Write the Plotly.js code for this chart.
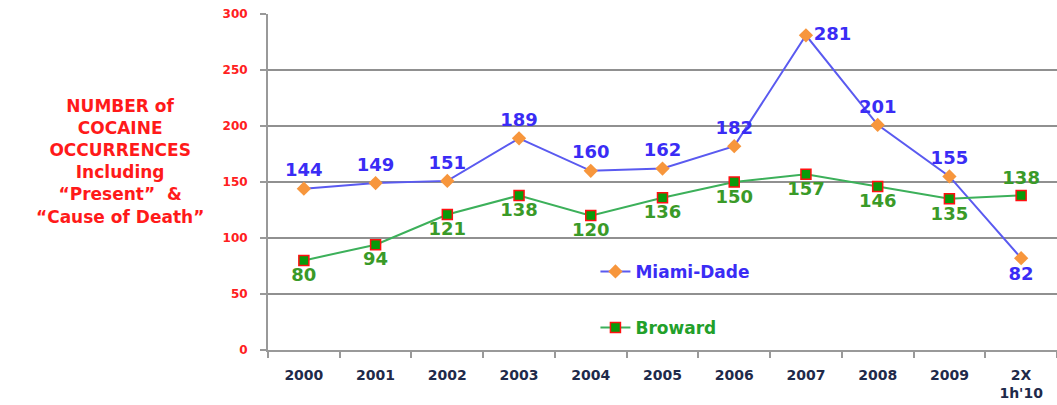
<!DOCTYPE html>
<html>
<head>
<meta charset="utf-8">
<script src="https://cdn.plot.ly/plotly-3.0.1.min.js"></script>
<style>html,body{margin:0;padding:0;background:#fff;}#chart{width:1057px;height:405px;}</style>
</head>
<body>
<div id="chart"></div>
<script>
const categories = ["2000","2001","2002","2003","2004","2005","2006","2007","2008","2009","2X<br>1h'10"];
const miamiDade = [144,149,151,189,160,162,182,281,201,155,82];
const broward = [80,94,121,138,120,136,150,157,146,135,138];
const yTicks = [0,50,100,150,200,250,300];

const miamiPos = miamiDade.map((v,i)=> i===7 ? 'middle right' : (i===10 ? 'bottom center' : 'top center'));
const browardPos = broward.map((v,i)=> i===10 ? 'top center' : 'bottom center');

const traces = [
  {
    x: categories, y: miamiDade, type: 'scatter', mode: 'lines+markers+text',
    name: '<span style="color:#3a2cf5">Miami-Dade</span>',
    legendgroup: 'a',
    line: {color: '#5a5af0', width: 2},
    marker: {symbol: 'diamond', size: 11, color: '#f7963c', line: {width: 0}},
    text: miamiDade.map(String), textposition: miamiPos,
    textfont: {family: 'DejaVu Sans', size: 18, color: '#3a2cf5', weight: 'bold'},
    cliponaxis: false
  },
  {
    x: categories, y: broward, type: 'scatter', mode: 'lines+markers+text',
    name: '<span style="color:#22a02a">Broward</span>',
    legendgroup: 'b',
    line: {color: '#3cb05a', width: 2},
    marker: {symbol: 'square', size: 10, color: '#0a9a0a', line: {width: 1.5, color: '#ff1010'}},
    text: broward.map(String), textposition: browardPos,
    textfont: {family: 'DejaVu Sans', size: 18, color: '#3a9a28', weight: 'bold'},
    cliponaxis: false
  }
];

const layout = {
  width: 1057, height: 405,
  margin: {l: 268, r: 0, t: 14, b: 55},
  paper_bgcolor: '#fff', plot_bgcolor: '#fff',
  showlegend: true,
  legend: {x: 0.415, y: 0.286, xanchor: 'left', yanchor: 'top', bgcolor: 'rgba(0,0,0,0)',
           font: {family: 'DejaVu Sans', size: 17, weight: 'bold'},
           tracegroupgap: 31, traceorder: 'grouped'},
  xaxis: {
    type: 'category', tickmode: 'array', tickvals: categories, ticktext: categories,
    range: [-0.5, 10.5],
    showgrid: false, showline: true, linecolor: '#999', linewidth: 2,
    ticks: 'outside', tickson: 'boundaries', ticklen: 6, tickcolor: '#999', tickwidth: 2,
    ticklabelstandoff: 11,
    tickfont: {family: 'DejaVu Sans', size: 14, color: '#1f2a4a', weight: 'bold'},
    fixedrange: true
  },
  yaxis: {
    range: [0, 300], tickmode: 'array', tickvals: yTicks,
    showgrid: true, gridcolor: '#909090', gridwidth: 1.5,
    showline: true, linecolor: '#999', linewidth: 2,
    ticks: 'outside', ticklen: 6, tickcolor: '#999', tickwidth: 2,
    ticklabelstandoff: 10,
    tickfont: {family: 'DejaVu Sans', size: 12, color: '#ff2020', weight: 'bold'},
    zeroline: false, fixedrange: true
  },
  annotations: [{
    xref: 'paper', yref: 'paper', x: -0.188, y: 0.5625, xanchor: 'center', yanchor: 'middle',
    showarrow: false, align: 'center',
    text: 'NUMBER of<br>COCAINE<br>OCCURRENCES<br>Including<br>\u201cPresent\u201d  &<br>\u201cCause of Death\u201d',
    font: {family: 'DejaVu Sans', size: 17, color: '#ff1a1a', weight: 'bold'}
  }]
};

Plotly.newPlot('chart', traces, layout, {displayModeBar: false, staticPlot: true});
</script>
</body>
</html>
